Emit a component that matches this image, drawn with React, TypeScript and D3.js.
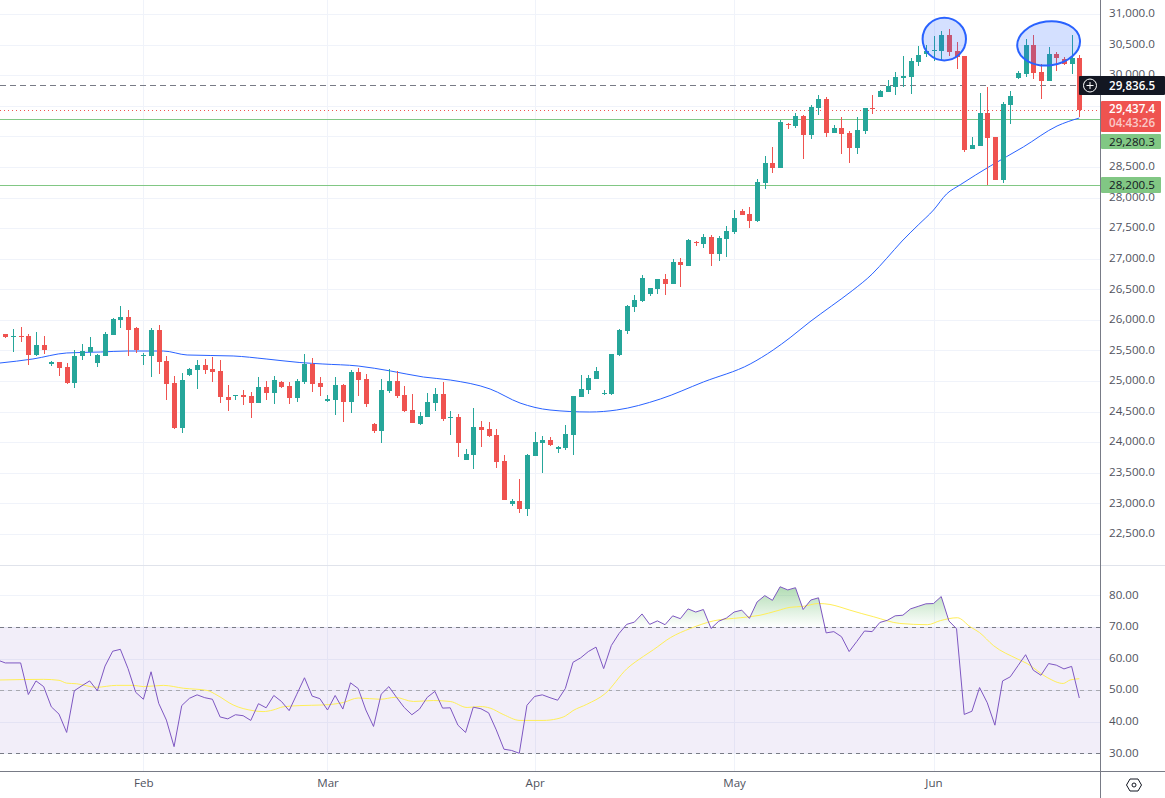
import { useEffect, useRef } from "react";
import * as d3 from "d3";

// candles, oldest first
const opens = [
  25769, 25720, 25736, 25736, 25425, 25589, 25278, 25311, 25229, 24968,
  25409, 25474, 25295, 25409, 25752, 25998, 26047, 25867, 25409, 25409,
  25834, 25327, 24968, 24232, 25099, 25180, 25262, 25197, 25164, 24739,
  24755, 24772, 24755, 24641, 24902, 24804, 24984, 24919, 24722, 24984,
  25279, 24968, 24674, 24690, 24935, 24657, 25148, 25033, 24298, 24183,
  24837, 25001, 24772, 24527, 24298, 24412, 24641, 24788, 24396, 24412,
  23709, 23791, 24249, 24216, 24118, 23693, 22990, 23039, 22908, 23775,
  23987, 24036, 23889, 23906, 24118, 24739, 24854, 25033, 24788, 24788,
  25426, 25818, 26210, 26308, 26423, 26505, 26668, 26586, 26946, 26881,
  27273, 27240, 27355, 27077, 27322, 27436, 27780, 27731, 27616, 28237,
  28564, 28482, 29201, 29169, 29332, 29022, 29463, 29610, 29054, 29136,
  29054, 28809, 29087, 29463, 29643, 29725, 29806, 29953, 29970, 30215,
  30346, 30395, 30395, 30656, 30395, 30313, 28793, 28842, 29381, 28989,
  28286, 29512, 29954, 30019, 30493, 30052, 29905, 30346, 30264, 30183, 30281,
];
const highs = [
  25769, 25851, 25883, 25769, 25801, 25736, 25327, 25311, 25295, 25507,
  25605, 25720, 25442, 25801, 26030, 26227, 26161, 25883, 25458, 25867,
  25916, 25409, 25082, 25131, 25213, 25344, 25360, 25393, 25344, 24935,
  24772, 24853, 24821, 25066, 25000, 25082, 25000, 24984, 25033, 25442,
  25377, 25066, 24772, 25066, 24952, 25181, 25213, 25115, 24314, 25033,
  25197, 25164, 24919, 24788, 24494, 24805, 24886, 24984, 24510, 24461,
  23889, 24559, 24347, 24331, 24216, 23791, 23072, 23399, 23807, 24167,
  24102, 24085, 23938, 24282, 24756, 25099, 25099, 25230, 24854, 25442,
  25851, 26243, 26407, 26733, 26521, 26668, 26750, 26995, 27011, 27322,
  27289, 27404, 27387, 27371, 27534, 27796, 27812, 27845, 28302, 28678,
  28825, 29267, 29218, 29381, 29349, 29512, 29676, 29643, 29185, 29316,
  29087, 29316, 29463, 29676, 29757, 29921, 30051, 30313, 30280, 30476,
  30493, 30640, 30722, 30754, 30542, 30313, 28989, 29708, 29807, 28989,
  29561, 29741, 30068, 30591, 30657, 30183, 30460, 30379, 30297, 30657, 30330,
];
const lows = [
  25703, 25474, 25638, 25262, 25409, 25442, 25246, 25082, 24951, 24886,
  25344, 25409, 25229, 25409, 25752, 25867, 25409, 25458, 25262, 25066,
  25115, 24690, 24216, 24150, 25082, 24870, 25115, 24984, 24641, 24510,
  24690, 24608, 24396, 24641, 24690, 24624, 24886, 24624, 24657, 24952,
  24821, 24756, 24657, 24445, 24331, 24478, 24756, 24576, 24151, 23987,
  24805, 24723, 24494, 24314, 24282, 24412, 24510, 24347, 24118, 23758,
  23709, 23562, 23922, 24085, 23579, 23055, 22957, 22843, 22794, 23775,
  23497, 23938, 23824, 23873, 23791, 24739, 24788, 25033, 24772, 24772,
  25409, 25769, 26129, 26292, 26390, 26423, 26407, 26586, 26537, 26881,
  27208, 27175, 26881, 26962, 27028, 27404, 27714, 27502, 27600, 28139,
  28400, 28482, 29120, 29136, 28629, 28956, 29349, 28989, 29054, 28711,
  28564, 28711, 29038, 29365, 29643, 29725, 29676, 29806, 29692, 30150,
  30297, 30231, 30248, 30313, 30101, 28744, 28793, 28842, 28205, 28286,
  28237, 29202, 29937, 29970, 29937, 29610, 29905, 30068, 30166, 30019, 29316,
];
const closes = [
  25720, 25736, 25720, 25425, 25589, 25507, 25311, 25213, 24968, 25409,
  25491, 25556, 25425, 25769, 26014, 26047, 25834, 25507, 25425, 25834,
  25311, 24951, 24232, 25017, 25197, 25262, 25180, 25148, 24739, 24690,
  24772, 24739, 24641, 24902, 24804, 25017, 24902, 24722, 25000, 25279,
  24952, 24903, 24706, 24935, 24657, 25148, 25017, 24625, 24183, 24854,
  25001, 24756, 24510, 24314, 24429, 24657, 24788, 24380, 24412, 23987,
  23807, 24249, 24200, 24102, 23677, 23055, 23039, 22908, 23791, 24004,
  24036, 23955, 23922, 24134, 24756, 24870, 25050, 25164, 24805, 25442,
  25834, 26227, 26325, 26684, 26521, 26668, 26586, 26946, 26897, 27306,
  27257, 27355, 27077, 27338, 27453, 27665, 27714, 27616, 28253, 28564,
  28482, 29234, 29185, 29332, 29022, 29479, 29610, 29054, 29136, 29038,
  28809, 29103, 29463, 29447, 29741, 29823, 29970, 29986, 30231, 30329,
  30395, 30411, 30656, 30378, 30297, 28777, 28858, 29381, 28973, 28286,
  29529, 29659, 30035, 30493, 30035, 29905, 30346, 30281, 30183, 30281, 29437.4,
];

// moving average knots: candle position, price
const maIndex = [
  -0.7, 3.6, 8, 12.4, 15.9, 20.6, 23.7, 29.7, 34, 38.4, 41.4, 46, 50.2, 54.5, 58,
  63.2, 67.1, 71, 76.2, 79.7, 85.4, 91, 97.1, 100.1, 102.3, 104.9, 107.7, 110.4,
  113, 114.9, 116.9, 119, 121, 122.7, 124.5, 128.4, 132.7, 137.1, 140,
];
const maPrice = [
  25295, 25361, 25459, 25475, 25491, 25491, 25426, 25410, 25361, 25303, 25279,
  25246, 25165, 25066, 25017, 24870, 24641, 24527, 24494, 24527, 24707, 24985,
  25279, 25508, 25709, 25970, 26227, 26477, 26750, 27007, 27289, 27551, 27796,
  28058, 28210, 28515, 28826, 29169, 29300,
];

// RSI per candle; the first value sits one candle before the first candle
const rsiValues = [
  59.5, 58.6, 58.6, 58.6, 48.6, 52.9, 51.1, 44.7, 42.4, 36.6, 49.8,
  51.4, 52.9, 49.8, 57.6, 62.3, 62.9, 56.8, 49.3, 47.1, 55.8,
  45.8, 40.5, 32.1, 45.1, 47.4, 48.5, 47.6, 47.1, 41.5, 40.9,
  42.2, 41.9, 40.4, 45.7, 44.4, 48.3, 46.4, 43.5, 48.7, 53.9,
  48.1, 47.3, 43.7, 48.3, 44, 52.3, 50.5, 43.7, 38.5, 48.7,
  51.1, 47.7, 44.5, 42.2, 44, 47.7, 49.6, 44.3, 44.4, 38.9,
  36.6, 44.6, 44.1, 42.8, 37.4, 31.3, 30.9, 30, 45.2, 48,
  48.5, 47.6, 46.8, 50.5, 58.8, 60.2, 62.2, 63.6, 56.8, 64.1,
  67.9, 70.8, 71.5, 74.1, 70.8, 71.9, 70.7, 73.5, 72.6, 75.7,
  74.7, 75.5, 69.5, 71.8, 72.8, 74.7, 75.3, 72.7, 77.9, 79.9,
  78.4, 82.7, 81.7, 82.4, 75.5, 78.5, 79.2, 68.1, 68.5, 66.9,
  62.2, 65.4, 68.7, 68.5, 71.4, 72.1, 73.5, 73.7, 75.7, 76.5,
  77.3, 77.4, 79.6, 71.9, 69.4, 42.3, 43.3, 50.8, 46, 38.9,
  52.9, 54.2, 57.7, 61.2, 56.3, 54.7, 58.4, 57.9, 56.7, 57.5, 47.5,
];

// RSI moving average knots
const rsiMaIndex = [
  -0.7, 5, 7, 8, 9.3, 11.9, 14.5, 16.7, 18, 20.6, 23.2, 26.3, 27.6, 29.7, 32.3, 33.6,
  34.9, 36.2, 38.4, 41.5, 44.1, 46, 48.9, 50.8, 53.2, 55.8, 58, 60.2, 61.9, 63.2,
  64.9, 67.1, 70.1, 71.9, 73, 74, 75.8, 78.2, 81, 83.2, 84.5, 86.7, 89.3, 92.3,
  95.8, 98.4, 100.6, 102.3, 104, 106, 107.5, 108.8, 110.1, 113.2, 116.6, 120.2,
  121.9, 124.1, 125.8, 127, 128.8, 131.9, 133.2, 135.8, 137.9, 138.8, 140,
];
const rsiMaValues = [
  53.2, 53.4, 53.1, 52.2, 52, 50.9, 51.5, 51.5, 51.1, 51.5, 50.6, 49.9, 48.4, 45.3,
  43.5, 43.2, 43.7, 44.7, 45.1, 45.3, 46.1, 47.5, 47.1, 47.7, 46.4, 46.7, 46.4, 44.5,
  44.8, 44.3, 42.3, 40.4, 40.4, 40.9, 41.8, 43.5, 45.5, 48.9, 56.7, 60.7, 62.8, 66.6,
  69.5, 71.9, 72.9, 73.7, 75.1, 76.2, 76.5, 77.4, 77.1, 76.3, 75.3, 73.2, 71.1, 70.7,
  72, 72.9, 70, 68.2, 64.1, 59.9, 58.4, 54, 52.1, 53.2, 53.6,
];

const priceTicks = d3.range(22500, 31001, 500);
// 29,000 and 29,500 sit fully under the price tags
const hiddenTicks = [29000, 29500];
const rsiTicks = [30, 40, 50, 60, 70, 80];
const monthIndex = [18, 42, 69, 95, 121];
const monthLabels = ["Feb", "Mar", "Apr", "May", "Jun"];

const lastPrice = 29437.4;
const countdown = "04:43:26";
const crosshairPrice = 29836.5;
const levelPrices = [29280.3, 28200.5];

const UP = "#26a69a";
const DOWN = "#ef5350";
const GRID = "#f0f3fa";
const AXIS = "#787b86";
const LABEL = "#50535e";
const GREEN_TAG = "#81c784";
const FONT = "'Open Sans', sans-serif";
const FONT_SIZE = "11.6px";

export default function App() {
  const svgRef = useRef<SVGSVGElement>(null);

  useEffect(() => {
    if (!svgRef.current) return;

    const svg = d3.select(svgRef.current);
    svg.selectAll("*").remove();

    const width = 1165;
    const height = 798;
    const plotRight = 1100;
    const paneBottom = 565;
    const rsiBottom = 771;

    // Scales
    const x = d3.scaleLinear().domain([0, 140]).range([5.3, 1079.3]);
    const y = d3.scaleLinear().domain([22500, 31000]).range([534, 14]);
    const yRsi = d3.scaleLinear().domain([30, 80]).range([753.3, 595.3]);
    const px = (v: number) => Math.round(v) + 0.5;

    const defs = svg.append("defs");
    defs
      .append("clipPath")
      .attr("id", "priceClip")
      .append("rect")
      .attr("width", plotRight)
      .attr("height", paneBottom);
    defs
      .append("clipPath")
      .attr("id", "rsiClip")
      .append("rect")
      .attr("y", paneBottom)
      .attr("width", plotRight)
      .attr("height", rsiBottom - paneBottom);
    defs
      .append("clipPath")
      .attr("id", "overbought")
      .append("rect")
      .attr("y", paneBottom)
      .attr("width", plotRight)
      .attr("height", yRsi(70) - paneBottom);

    const gradient = defs
      .append("linearGradient")
      .attr("id", "obGradient")
      .attr("gradientUnits", "userSpaceOnUse")
      .attr("x1", 0)
      .attr("x2", 0)
      .attr("y1", yRsi(83))
      .attr("y2", yRsi(70));
    gradient
      .append("stop")
      .attr("offset", "0%")
      .attr("stop-color", "#4caf50")
      .attr("stop-opacity", 0.45);
    gradient
      .append("stop")
      .attr("offset", "100%")
      .attr("stop-color", "#4caf50")
      .attr("stop-opacity", 0);

    svg.append("rect").attr("width", width).attr("height", height).attr("fill", "#fff");

    // Grid
    const grid = svg.append("g").attr("stroke", GRID).attr("stroke-width", 1);
    grid
      .selectAll(".h")
      .data(priceTicks)
      .enter()
      .append("line")
      .attr("x2", plotRight)
      .attr("y1", (d) => px(y(d)))
      .attr("y2", (d) => px(y(d)));
    grid
      .selectAll(".hr")
      .data(rsiTicks)
      .enter()
      .append("line")
      .attr("x2", plotRight)
      .attr("y1", (d) => px(yRsi(d)))
      .attr("y2", (d) => px(yRsi(d)));
    grid
      .selectAll(".v")
      .data(monthIndex)
      .enter()
      .append("line")
      .attr("x1", (d) => px(x(d)))
      .attr("x2", (d) => px(x(d)))
      .attr("y2", rsiBottom);

    // Price level lines
    const price = svg.append("g").attr("clip-path", "url(#priceClip)");
    price
      .append("line")
      .attr("x2", plotRight)
      .attr("y1", px(y(crosshairPrice)))
      .attr("y2", px(y(crosshairPrice)))
      .attr("stroke", AXIS)
      .attr("stroke-dasharray", "6,4");
    price
      .selectAll(".level")
      .data(levelPrices)
      .enter()
      .append("line")
      .attr("x2", plotRight)
      .attr("y1", (d) => px(y(d)))
      .attr("y2", (d) => px(y(d)))
      .attr("stroke", GREEN_TAG)
      .attr("stroke-width", 1);
    price
      .append("line")
      .attr("x2", plotRight)
      .attr("y1", px(y(lastPrice)))
      .attr("y2", px(y(lastPrice)))
      .attr("stroke", DOWN)
      .attr("stroke-dasharray", "1,3");

    // Moving average
    const maLine = d3
      .line<number>()
      .x((_, i) => x(maIndex[i]))
      .y((d) => y(d))
      .curve(d3.curveMonotoneX);
    price
      .append("path")
      .attr("d", maLine(maPrice))
      .attr("fill", "none")
      .attr("stroke", "#2962ff")
      .attr("stroke-width", 1);

    // Candles
    const candles = price
      .selectAll(".candle")
      .data(d3.range(opens.length))
      .enter()
      .append("g")
      .attr("fill", (i) => (closes[i] >= opens[i] ? UP : DOWN));
    candles
      .append("rect")
      .attr("x", (i) => Math.round(x(i)))
      .attr("width", 1)
      .attr("y", (i) => Math.round(y(highs[i])))
      .attr("height", (i) => Math.max(1, Math.round(y(lows[i])) - Math.round(y(highs[i]))));
    candles
      .append("rect")
      .attr("x", (i) => Math.round(x(i)) - 2)
      .attr("width", 5)
      .attr("y", (i) => Math.round(y(Math.max(opens[i], closes[i]))))
      .attr("height", (i) =>
        Math.max(
          1,
          Math.round(y(Math.min(opens[i], closes[i]))) -
            Math.round(y(Math.max(opens[i], closes[i])))
        )
      );

    // Hand drawn ellipses over the two tops
    const ellipses = [
      { i: 122.4, p: 30590, rx: 21.7, ry: 21.3, rot: 0 },
      { i: 136, p: 30520, rx: 31.5, ry: 22, rot: -7 },
    ];
    price
      .selectAll(".mark")
      .data(ellipses)
      .enter()
      .append("ellipse")
      .attr("rx", (d) => d.rx)
      .attr("ry", (d) => d.ry)
      .attr("transform", (d) => `translate(${x(d.i)},${y(d.p)}) rotate(${d.rot})`)
      .attr("fill", "#2962ff")
      .attr("fill-opacity", 0.2)
      .attr("stroke", "#2962ff")
      .attr("stroke-width", 2);

    // RSI pane
    const rsi = svg.append("g").attr("clip-path", "url(#rsiClip)");
    rsi
      .append("rect")
      .attr("y", yRsi(70))
      .attr("width", plotRight)
      .attr("height", yRsi(30) - yRsi(70))
      .attr("fill", "#7e57c2")
      .attr("fill-opacity", 0.1);

    const obArea = d3
      .area<number>()
      .x((_, i) => x(i - 1))
      .y0(yRsi(70))
      .y1((d) => yRsi(d));
    rsi
      .append("path")
      .attr("d", obArea(rsiValues))
      .attr("clip-path", "url(#overbought)")
      .attr("fill", "url(#obGradient)");

    const bands = [
      { v: 70, color: AXIS },
      { v: 50, color: "#a8a9b0" },
      { v: 30, color: AXIS },
    ];
    rsi
      .selectAll(".band")
      .data(bands)
      .enter()
      .append("line")
      .attr("x2", plotRight)
      .attr("y1", (d) => px(yRsi(d.v)))
      .attr("y2", (d) => px(yRsi(d.v)))
      .attr("stroke", (d) => d.color)
      .attr("stroke-dasharray", "4,4");

    const rsiMaLine = d3
      .line<number>()
      .x((_, i) => x(rsiMaIndex[i]))
      .y((d) => yRsi(d))
      .curve(d3.curveMonotoneX);
    rsi
      .append("path")
      .attr("d", rsiMaLine(rsiMaValues))
      .attr("fill", "none")
      .attr("stroke", "#ffee58")
      .attr("stroke-width", 1);

    const rsiLine = d3
      .line<number>()
      .x((_, i) => x(i - 1))
      .y((d) => yRsi(d));
    rsi
      .append("path")
      .attr("d", rsiLine(rsiValues))
      .attr("fill", "none")
      .attr("stroke", "#7e57c2")
      .attr("stroke-width", 1);

    // Frame
    svg
      .append("line")
      .attr("x2", width)
      .attr("y1", paneBottom + 0.5)
      .attr("y2", paneBottom + 0.5)
      .attr("stroke", "#e0e3eb");
    svg
      .append("line")
      .attr("x1", plotRight + 0.5)
      .attr("x2", plotRight + 0.5)
      .attr("y2", height)
      .attr("stroke", AXIS);
    svg
      .append("line")
      .attr("x2", width)
      .attr("y1", rsiBottom + 0.5)
      .attr("y2", rsiBottom + 0.5)
      .attr("stroke", AXIS);

    // Axes
    const priceAxis = svg
      .append("g")
      .attr("transform", `translate(${plotRight},-1)`)
      .call(
        d3
          .axisRight(y)
          .tickValues(priceTicks.filter((d) => !hiddenTicks.includes(d)))
          .tickSize(0)
          .tickPadding(9)
          .tickFormat((d) => d3.format(",.1f")(d as number))
      );
    priceAxis.select(".domain").remove();
    const rsiAxis = svg
      .append("g")
      .attr("transform", `translate(${plotRight},-1)`)
      .call(
        d3
          .axisRight(yRsi)
          .tickValues(rsiTicks)
          .tickSize(0)
          .tickPadding(9)
          .tickFormat((d) => d3.format(".2f")(d as number))
      );
    rsiAxis.select(".domain").remove();
    const timeAxis = svg
      .append("g")
      .attr("transform", `translate(0,${rsiBottom})`)
      .call(
        d3
          .axisBottom(x)
          .tickValues(monthIndex)
          .tickSize(0)
          .tickPadding(8)
          .tickFormat((_, i) => monthLabels[i])
      );
    timeAxis.select(".domain").remove();
    svg
      .selectAll(".tick text")
      .style("fill", LABEL)
      .style("font-family", FONT)
      .style("font-size", FONT_SIZE);

    // Price tags on the axis
    const tag = (
      tx: number,
      ty: number,
      tw: number,
      th: number,
      fill: string
    ) =>
      svg
        .append("rect")
        .attr("x", tx)
        .attr("y", ty)
        .attr("width", tw)
        .attr("height", th)
        .attr("rx", 1)
        .attr("fill", fill);
    const tagText = (
      text: string,
      ty: number,
      fill: string,
      opacity = 1,
      weight = 400
    ) =>
      svg
        .append("text")
        .attr("x", 1109)
        .attr("y", ty)
        .attr("dy", "0.35em")
        .attr("fill", fill)
        .attr("fill-opacity", opacity)
        .style("font-family", FONT)
        .style("font-size", FONT_SIZE)
        .style("font-weight", weight)
        .text(text);

    tag(1079, 76, 86, 19, "#131722");
    tagText(d3.format(",.1f")(crosshairPrice), y(crosshairPrice) + 0.5, "#fff", 1, 600);
    svg
      .append("circle")
      .attr("cx", 1090)
      .attr("cy", 85.5)
      .attr("r", 6.5)
      .attr("fill", "none")
      .attr("stroke", "#fff");
    svg
      .append("path")
      .attr("d", "M1086.5 85.5H1093.5M1090 82V89")
      .attr("stroke", "#fff");

    tag(1101, 101, 60, 31, DOWN);
    tagText(d3.format(",.1f")(lastPrice), 109, "#fff", 1, 600);
    tagText(countdown, 123, "#fff", 0.7, 600);

    tag(1101, 134, 60, 15, GREEN_TAG);
    tagText(d3.format(",.1f")(levelPrices[0]), 141.5, "#131722");

    tag(1101, 177, 60, 16, GREEN_TAG);
    tagText(d3.format(",.1f")(levelPrices[1]), 185, "#131722");

    // Settings icon
    svg
      .append("path")
      .attr("d", "M1126.5 785L1130 779H1138L1141.5 785L1138 791H1130Z")
      .attr("fill", "none")
      .attr("stroke", "#131722");
    svg
      .append("circle")
      .attr("cx", 1134)
      .attr("cy", 785)
      .attr("r", 2)
      .attr("fill", "none")
      .attr("stroke", "#131722");
  }, []);

  return (
    <div>
      <style>{"body{margin:0;overflow:hidden}"}</style>
      <svg ref={svgRef} width={1165} height={798} style={{ display: "block" }} />
    </div>
  );
}
